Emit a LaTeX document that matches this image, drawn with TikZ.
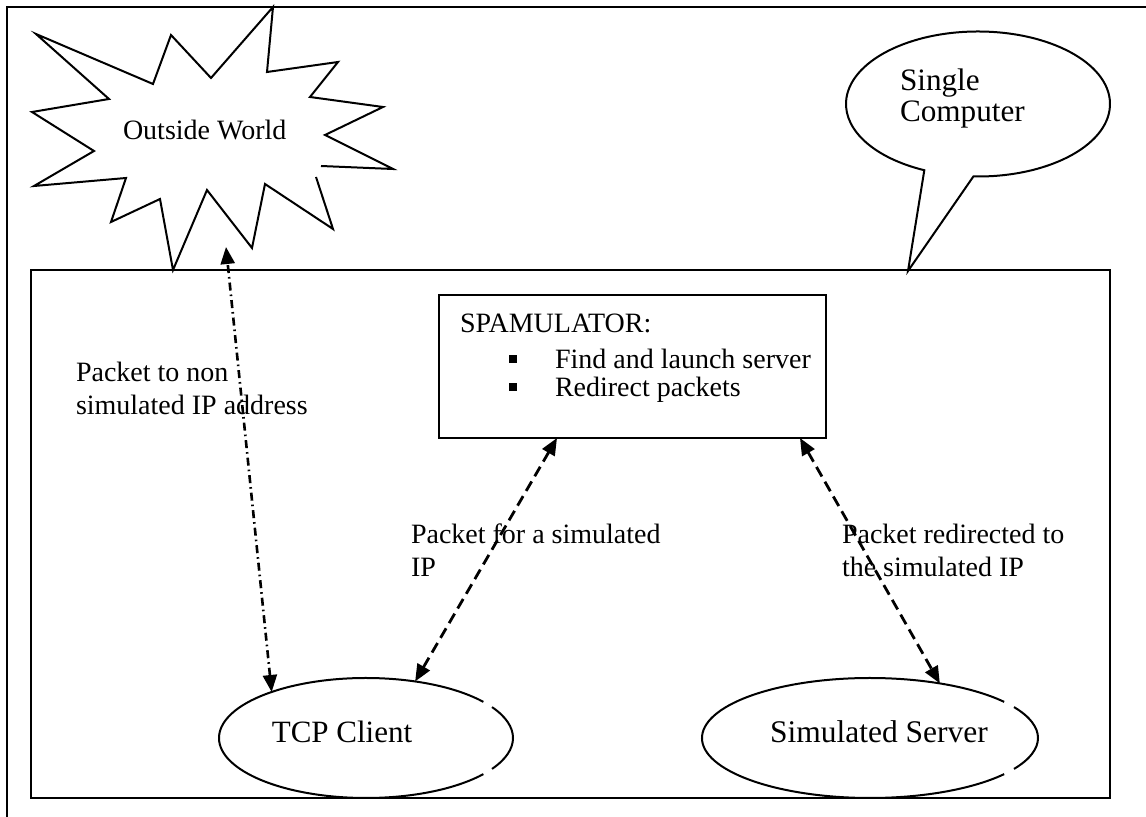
\documentclass[tikz,border=0pt]{standalone}
\usepackage{fontspec}
\setmainfont{Liberation Serif}
\usetikzlibrary{shapes.geometric,arrows.meta,calc}
\begin{document}
\begin{tikzpicture}[x=0.5pt,y=-0.5pt,
  line/.style={line width=1pt, line join=miter},
  lbl/.style={anchor=base west, inner sep=0pt, outer sep=0pt, align=left, font=\fontsize{14}{16.5}\selectfont},
  ell/.style={ellipse, inner sep=0pt, outer sep=0pt},
  tipA/.tip={Triangle[length=8.5pt,width=7pt]},
  dsh/.style={line width=1.4pt, dash pattern=on 5.5pt off 3pt, tipA-tipA},
  dd/.style={line width=1.3pt, dash pattern=on 4pt off 2pt on 0.8pt off 2pt, tipA-tipA}
]
\useasboundingbox (0,0) rectangle (1146,817);

% page frame (partial)
\draw[line] (7,817) -- (7,7) -- (1146,7);

% main computer box
\node[draw, line width=1.2pt, inner sep=0pt, outer sep=0pt, minimum width=539.5pt, minimum height=264pt] (computer) at (570.5,534) {};

% outside world starburst
\draw[line] (316,177) -- (333,229) -- (265,184) -- (252,248) -- (207,190) -- (173,270)
  -- (160,199) -- (111,222) -- (126,178) -- (34,186) -- (94,151) -- (32,112) -- (109,99)
  -- (36,34) -- (153,84) -- (171,35) -- (211,78) -- (273,7) -- (267,72) -- (338,62)
  -- (310,97) -- (383,107) -- (325,135) -- (393,169) -- (321,166);
\node[lbl] (world) at (123,140) {Outside World};

% speech bubble
\draw[line] ([shift={(978,104)}] -92:66pt and 36.25pt)
  arc[start angle=-92, end angle=246, x radius=66pt, y radius=36.25pt] -- (908,271) -- cycle;
\node[lbl, font=\fontsize{15.6}{15.5}\selectfont] (single) at (900,122) {Single\\Computer};

% SPAMULATOR box
\node[draw, line width=1pt, inner sep=0pt, outer sep=0pt, minimum width=193.5pt, minimum height=71.5pt] (spam) at (632.5,366.5) {};
\node[lbl] (spamhead) at (460,333) {SPAMULATOR:};
\node[lbl] (item1) at (509,369) {\raisebox{3pt}{\rule{4pt}{4pt}}\hspace{19pt}Find and launch server};
\node[lbl] (item2) at (509,397) {\raisebox{3pt}{\rule{4pt}{4pt}}\hspace{19pt}Redirect packets};

% TCP client ellipse (with small gaps on the right)
\node[ell, minimum width=147pt, minimum height=60pt] (tcp) at (366,738) {};
\draw[line] ([shift={(tcp.center)}] 37:73.5pt and 30pt) arc[start angle=37, end angle=323, x radius=73.5pt, y radius=30pt];
\draw[line] ([shift={(tcp.center)}] -31:73.5pt and 30pt) arc[start angle=-31, end angle=31, x radius=73.5pt, y radius=30pt];
\node[anchor=base, inner sep=0pt, font=\fontsize{15.5}{18}\selectfont] (tcptxt) at (342,742) {TCP Client};

% Simulated server ellipse
\node[ell, minimum width=168pt, minimum height=60pt] (sim) at (870,738) {};
\draw[line] ([shift={(sim.center)}] 37:84pt and 30pt) arc[start angle=37, end angle=323, x radius=84pt, y radius=30pt];
\draw[line] ([shift={(sim.center)}] -31:84pt and 30pt) arc[start angle=-31, end angle=31, x radius=84pt, y radius=30pt];
\node[anchor=base, inner sep=0pt, font=\fontsize{15.75}{18}\selectfont] (simtxt) at (879,742) {Simulated Server};

% labels (anchor = baseline of the last line)
\node[lbl] (lblout) at (76,415) {Packet to non\\simulated IP address};
\node[lbl] (lblfor) at (411,577) {Packet for a simulated\\IP};
\node[lbl] (lblred) at (842,577) {Packet redirected to\\the simulated IP};

% connectors
\coordinate (wend) at (226,247);
\draw[dd] (tcp.154.7) -- (wend);
\draw[dsh] ($(spam.south west)+(118,0)$) -- (tcp.49.7);
\draw[dsh] ($(spam.south west)+(361,0)$) -- (sim.38);
\end{tikzpicture}
\end{document}
